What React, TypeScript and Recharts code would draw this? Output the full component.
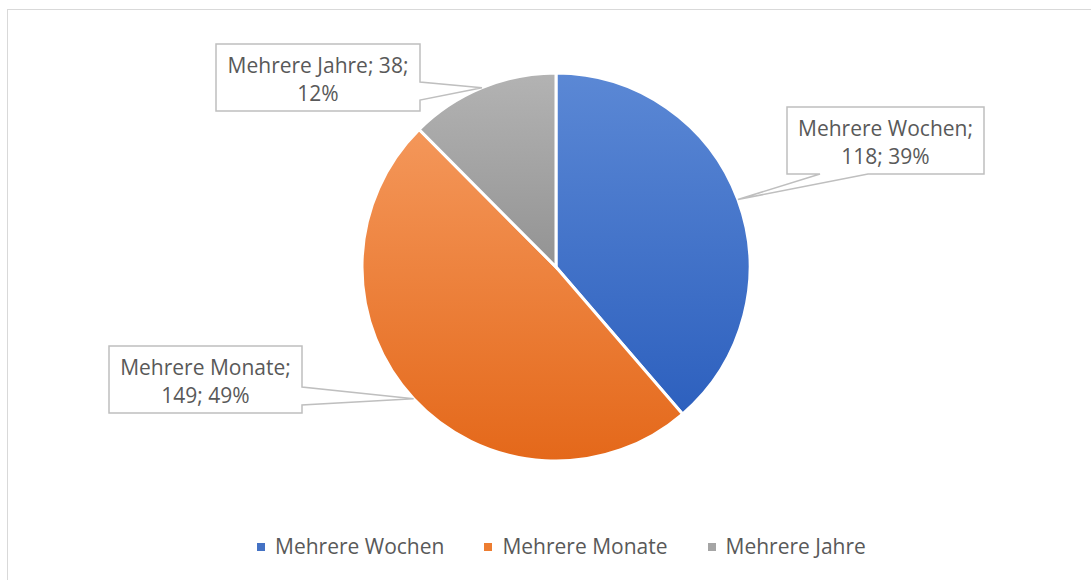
import React from "react";
import { PieChart, Pie, Cell, Legend } from "recharts";

const categories = ["Mehrere Wochen", "Mehrere Monate", "Mehrere Jahre"];
const counts = [118, 149, 38];

const data = categories.map((name, i) => ({ name, value: counts[i] }));

const gradients = [
  { id: "gWochen", top: "#5b88d5", bottom: "#2d60be", legend: "#4472c4" },
  { id: "gMonate", top: "#f4975a", bottom: "#e4681a", legend: "#ed7d31" },
  { id: "gJahre", top: "#b3b3b3", bottom: "#939393", legend: "#a5a5a5" },
];

// callout box layout (annotation placement only)
const callouts: Record<string, any> = {
  "Mehrere Wochen": { x: 787, y: 107, w: 197, h: 67, side: "bottom", b1: 820, b2: 868, breakAfter: "name" },
  "Mehrere Monate": { x: 109, y: 346, w: 193, h: 67, side: "right", b1: 387, b2: 405, breakAfter: "name" },
  "Mehrere Jahre": { x: 216, y: 44, w: 204, h: 67, side: "right", b1: 82, b2: 100, breakAfter: "value" },
};

const FONT = "'Open Sans', 'Noto Sans', sans-serif";
const TEXT = "#595959";
const RAD = Math.PI / 180;

const renderLabel = (props: any) => {
  const { cx, cy, midAngle, outerRadius, name, value, percent } = props;
  const c = callouts[name];
  if (!c) return null;
  const ax = cx + outerRadius * Math.cos(-midAngle * RAD);
  const ay = cy + outerRadius * Math.sin(-midAngle * RAD);
  const { x, y, w, h, side, b1, b2 } = c;
  let d = "";
  if (side === "bottom") {
    d = `M${x},${y} H${x + w} V${y + h} H${b2} L${ax},${ay} L${b1},${y + h} H${x} Z`;
  } else {
    d = `M${x},${y} H${x + w} V${b1} L${ax},${ay} L${x + w},${b2} V${y + h} H${x} Z`;
  }
  const pct = Math.round(percent * 100);
  const l1 = c.breakAfter === "name" ? `${name};` : `${name}; ${value};`;
  const l2 = c.breakAfter === "name" ? `${value}; ${pct}%` : `${pct}%`;
  return (
    <g>
      <path d={d} fill="#ffffff" stroke="#bfbfbf" strokeWidth={1.5} />
      <text x={x + w / 2} y={y + 28.5} textAnchor="middle" fill={TEXT} fontSize={21} fontFamily={FONT}>
        {l1}
      </text>
      <text x={x + w / 2} y={y + 56.5} textAnchor="middle" fill={TEXT} fontSize={21} fontFamily={FONT}>
        {l2}
      </text>
    </g>
  );
};

const renderLegend = () => (
  <div style={{ display: "flex", alignItems: "center", fontFamily: FONT, fontSize: 21, lineHeight: "28px", color: TEXT }}>
    {categories.map((name, i) => (
      <div key={name} style={{ display: "flex", alignItems: "center", marginRight: i < categories.length - 1 ? 40 : 0 }}>
        <span style={{ display: "inline-block", width: 8, height: 8, background: gradients[i].legend, marginRight: 10, marginTop: 2 }} />
        <span>{name}</span>
      </div>
    ))}
  </div>
);

export default function App() {
  return (
    <div style={{ position: "fixed", left: 0, top: 0, width: 1091, height: 580, overflow: "hidden", background: "#fff" }}>
      <div style={{ position: "absolute", left: 7, top: 9, width: 1200, height: 700, border: "1.5px solid #d9d9d9", boxSizing: "border-box" }} />
      <div style={{ position: "absolute", left: 0, top: 0 }}>
        <PieChart width={1091} height={580} margin={{ top: 0, right: 0, bottom: 0, left: 0 }}>
          <defs>
            {gradients.map((g) => (
              <linearGradient key={g.id} id={g.id} x1="0" y1="0" x2="0" y2="1">
                <stop offset="0%" stopColor={g.top} />
                <stop offset="100%" stopColor={g.bottom} />
              </linearGradient>
            ))}
          </defs>
          <Pie
            data={data}
            dataKey="value"
            nameKey="name"
            cx={556}
            cy={267}
            outerRadius={194}
            startAngle={90}
            endAngle={-270}
            stroke="#ffffff"
            strokeWidth={3}
            isAnimationActive={false}
            labelLine={false}
            label={renderLabel}
          >
            {data.map((d, i) => (
              <Cell key={d.name} fill={`url(#${gradients[i].id})`} />
            ))}
          </Pie>
          <Legend
            content={renderLegend}
            wrapperStyle={{ position: "absolute", left: 257, top: 532, width: "auto", height: "auto" }}
          />
        </PieChart>
      </div>
    </div>
  );
}
